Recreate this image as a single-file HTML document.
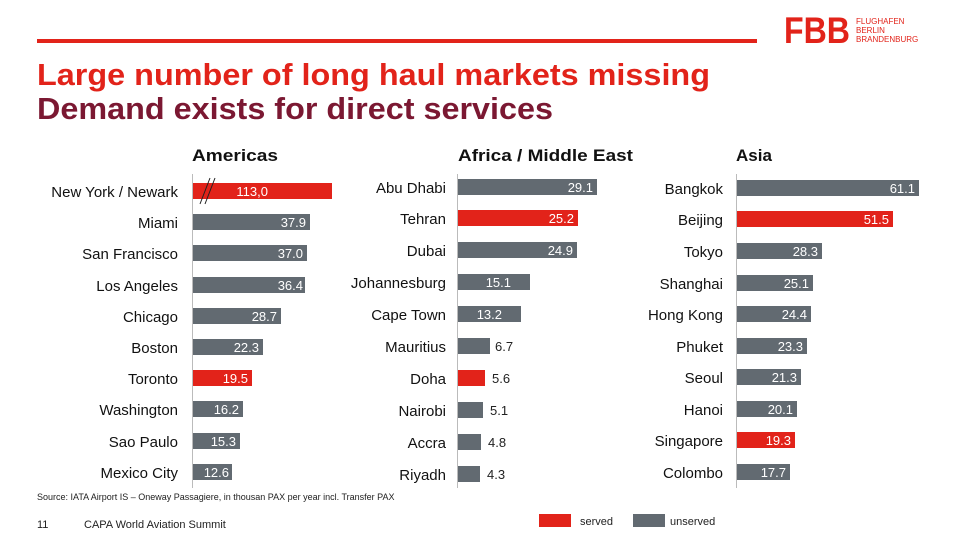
<!DOCTYPE html>
<html><head><meta charset="utf-8"><style>html,body{margin:0;padding:0;background:#fff}svg{display:block}</style></head>
<body>
<svg width="960" height="540" viewBox="0 0 960 540" xmlns="http://www.w3.org/2000/svg" font-family="Liberation Sans, Arial, sans-serif">
<rect width="960" height="540" fill="#fff"/>
<rect x="37" y="39" width="720" height="4" fill="#e2231a"/>
<text x="784" y="43" font-size="37" font-weight="bold" fill="#e2231a" textLength="66" lengthAdjust="spacingAndGlyphs">FBB</text>
<g font-size="8" fill="#e2231a"><text x="856" y="24">FLUGHAFEN</text><text x="856" y="33">BERLIN</text><text x="856" y="42">BRANDENBURG</text></g>
<text x="37" y="85" font-size="31" font-weight="bold" fill="#e2231a" textLength="673" lengthAdjust="spacingAndGlyphs">Large number of long haul markets missing</text>
<text x="37" y="119" font-size="31" font-weight="bold" fill="#7b1832" textLength="516" lengthAdjust="spacingAndGlyphs">Demand exists for direct services</text>
<g font-size="17" font-weight="bold" fill="#111"><text x="192" y="161" textLength="86" lengthAdjust="spacingAndGlyphs">Americas</text><text x="458" y="161" textLength="175" lengthAdjust="spacingAndGlyphs">Africa / Middle East</text><text x="736" y="161">Asia</text></g>
<g stroke="#bbb" stroke-width="1"><line x1="192.5" y1="174" x2="192.5" y2="488"/><line x1="457.5" y1="174" x2="457.5" y2="488"/><line x1="736.5" y1="174" x2="736.5" y2="488"/></g>
<g font-size="15" fill="#111" text-anchor="end">
<text x="178" y="197">New York / Newark</text><text x="178" y="228">Miami</text><text x="178" y="259">San Francisco</text><text x="178" y="291">Los Angeles</text><text x="178" y="322">Chicago</text><text x="178" y="353">Boston</text><text x="178" y="384">Toronto</text><text x="178" y="415">Washington</text><text x="178" y="447">Sao Paulo</text><text x="178" y="478">Mexico City</text>
<text x="446" y="193">Abu Dhabi</text><text x="446" y="224">Tehran</text><text x="446" y="256">Dubai</text><text x="446" y="288">Johannesburg</text><text x="446" y="320">Cape Town</text><text x="446" y="352">Mauritius</text><text x="446" y="384">Doha</text><text x="446" y="416">Nairobi</text><text x="446" y="448">Accra</text><text x="446" y="480">Riyadh</text>
<text x="723" y="194">Bangkok</text><text x="723" y="225">Beijing</text><text x="723" y="257">Tokyo</text><text x="723" y="289">Shanghai</text><text x="723" y="320">Hong Kong</text><text x="723" y="352">Phuket</text><text x="723" y="383">Seoul</text><text x="723" y="415">Hanoi</text><text x="723" y="446">Singapore</text><text x="723" y="478">Colombo</text>
</g>
<g>
<rect x="193" y="183" width="139" height="16" fill="#e2231a"/>
<rect x="193" y="214" width="117" height="16" fill="#626a71"/>
<rect x="193" y="245" width="114" height="16" fill="#626a71"/>
<rect x="193" y="277" width="112" height="16" fill="#626a71"/>
<rect x="193" y="308" width="88" height="16" fill="#626a71"/>
<rect x="193" y="339" width="70" height="16" fill="#626a71"/>
<rect x="193" y="370" width="59" height="16" fill="#e2231a"/>
<rect x="193" y="401" width="50" height="16" fill="#626a71"/>
<rect x="193" y="433" width="47" height="16" fill="#626a71"/>
<rect x="193" y="464" width="39" height="16" fill="#626a71"/>
<rect x="458" y="179" width="139" height="16" fill="#626a71"/>
<rect x="458" y="210" width="120" height="16" fill="#e2231a"/>
<rect x="458" y="242" width="119" height="16" fill="#626a71"/>
<rect x="458" y="274" width="72" height="16" fill="#626a71"/>
<rect x="458" y="306" width="63" height="16" fill="#626a71"/>
<rect x="458" y="338" width="32" height="16" fill="#626a71"/>
<rect x="458" y="370" width="27" height="16" fill="#e2231a"/>
<rect x="458" y="402" width="25" height="16" fill="#626a71"/>
<rect x="458" y="434" width="23" height="16" fill="#626a71"/>
<rect x="458" y="466" width="22" height="16" fill="#626a71"/>
<rect x="737" y="180" width="182" height="16" fill="#626a71"/>
<rect x="737" y="211" width="156" height="16" fill="#e2231a"/>
<rect x="737" y="243" width="85" height="16" fill="#626a71"/>
<rect x="737" y="275" width="76" height="16" fill="#626a71"/>
<rect x="737" y="306" width="74" height="16" fill="#626a71"/>
<rect x="737" y="338" width="70" height="16" fill="#626a71"/>
<rect x="737" y="369" width="64" height="16" fill="#626a71"/>
<rect x="737" y="401" width="60" height="16" fill="#626a71"/>
<rect x="737" y="432" width="58" height="16" fill="#e2231a"/>
<rect x="737" y="464" width="53" height="16" fill="#626a71"/>
</g>
<g stroke="#222" stroke-width="1"><line x1="200" y1="204" x2="210" y2="178"/><line x1="205" y1="204" x2="215" y2="178"/></g>
<g font-size="13" fill="#fff" text-anchor="end">
<text x="268" y="196">113,0</text><text x="306" y="227">37.9</text><text x="303" y="258">37.0</text><text x="303" y="290">36.4</text><text x="277" y="321">28.7</text><text x="259" y="352">22.3</text><text x="248" y="383">19.5</text><text x="239" y="414">16.2</text><text x="236" y="446">15.3</text><text x="229" y="477">12.6</text>
<text x="593" y="192">29.1</text><text x="574" y="223">25.2</text><text x="573" y="255">24.9</text><text x="511" y="287">15.1</text><text x="502" y="319">13.2</text>
<text x="915" y="193">61.1</text><text x="889" y="224">51.5</text><text x="818" y="256">28.3</text><text x="809" y="288">25.1</text><text x="807" y="319">24.4</text><text x="803" y="351">23.3</text><text x="797" y="382">21.3</text><text x="793" y="414">20.1</text><text x="791" y="445">19.3</text><text x="786" y="477">17.7</text>
</g>
<g font-size="13" fill="#222"><text x="495" y="351">6.7</text><text x="492" y="383">5.6</text><text x="490" y="415">5.1</text><text x="488" y="447">4.8</text><text x="487" y="479">4.3</text></g>
<text x="37" y="500" font-size="9" fill="#222">Source: IATA Airport IS – Oneway Passagiere, in thousan PAX per year incl. Transfer PAX</text>
<text x="37" y="528" font-size="11" fill="#222">11</text>
<text x="84" y="528" font-size="11" fill="#222">CAPA World Aviation Summit</text>
<rect x="539" y="514" width="32" height="13" fill="#e2231a"/><text x="580" y="525" font-size="11" fill="#222">served</text>
<rect x="633" y="514" width="32" height="13" fill="#626a71"/><text x="670" y="525" font-size="11" fill="#222">unserved</text>
</svg>
</body></html>
